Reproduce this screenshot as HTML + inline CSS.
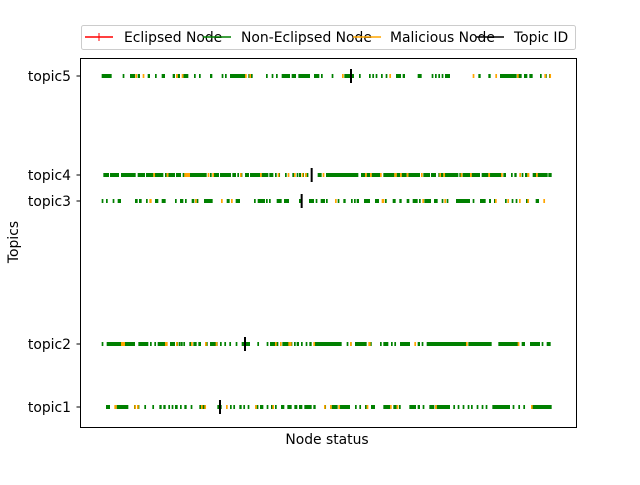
<!DOCTYPE html>
<html><head><meta charset="utf-8"><style>
body{margin:0;background:#fff;}
svg text{font-family:"DejaVu Sans","Liberation Sans",sans-serif;font-size:13.9px;fill:#000;}
</style></head><body>
<svg id="chart" width="640" height="480" viewBox="0 0 640 480" xmlns="http://www.w3.org/2000/svg">
<rect x="0" y="0" width="640" height="480" fill="#fff"/>
<g id="marks"></g>
<rect x="80.5" y="58.5" width="496" height="369" fill="none" stroke="#000" stroke-width="1"/>
<g id="yaxis"></g>
<text x="327" y="444" text-anchor="middle">Node status</text>
<text x="18" y="242" text-anchor="middle" transform="rotate(-90 18 242)">Topics</text>
<g>
<rect x="81.5" y="25.5" width="494" height="24" rx="2" fill="#fff" stroke="#ccc"/>
<g><line x1="85" y1="37" x2="113" y2="37" stroke="red" stroke-width="1.5"/><line x1="99" y1="33" x2="99" y2="41" stroke="red" stroke-width="1"/><text x="124" y="42">Eclipsed Node</text></g>
<g><line x1="203" y1="37" x2="231" y2="37" stroke="green" stroke-width="1.5"/><text x="241" y="42">Non-Eclipsed Node</text></g>
<g><line x1="353" y1="37" x2="381" y2="37" stroke="orange" stroke-width="1.5"/><text x="390" y="42">Malicious Node</text></g>
<g><line x1="476" y1="37" x2="504" y2="37" stroke="#000" stroke-width="1.5"/><text x="514" y="42">Topic ID</text></g>
</g>
</svg>
<script>
const topics = ["topic1","topic2","topic3","topic4","topic5"];
const topicValues = [20, 83, 226, 252, 351];
const topicIds = [375, 450, 620, 650, 768];
const green1 = [[33,45],[65,100],[117,120],[128,133],[148,153],[172,177],[193,200],[205,212],[220,225],[230,235],[240,248],[255,260],[268,275],[287,292],[313,330],[367,380],[405,410],[415,420],[433,440],[445,450],[458,462],[485,490],[495,505],[515,520],[528,535],[540,545],[558,568],[577,590],[598,607],[612,622],[628,650],[655,662],[688,693],[710,728],[735,765],[780,785],[793,798],[810,815],[828,840],[865,885],[895,905],[912,915],[943,963],[968,975],[983,988],[1003,1018],[1025,1065],[1075,1080],[1088,1093],[1103,1108],[1118,1123],[1128,1133],[1145,1150],[1160,1165],[1172,1177],[1192,1245],[1253,1258],[1270,1275],[1285,1290],[1310,1370]];
const orange1 = [[58,65],[118,120],[126,130],[318,323],[328,333],[393,398],[480,485],[532,537],[687,692],[705,710],[730,735],[815,820],[885,890],[905,910],[1020,1025],[1308,1313]];
const green2 = [[20,25],[35,78],[88,120],[130,160],[165,170],[178,183],[188,212],[225,240],[245,248],[252,255],[258,262],[265,270],[283,288],[295,305],[310,318],[330,338],[345,368],[375,380],[388,393],[403,408],[422,425],[440,465],[487,490],[515,520],[525,550],[562,592],[597,602],[605,612],[618,622],[632,637],[643,650],[660,740],[755,760],[765,770],[780,815],[825,830],[855,860],[865,880],[888,893],[898,903],[915,945],[968,975],[980,985],[995,1115],[1120,1190],[1210,1270],[1280,1290],[1305,1335],[1340,1345],[1355,1367]];
const orange2 = [[78,90],[210,218],[243,245],[288,293],[330,335],[362,367],[540,545],[555,560],[580,590],[655,660],[765,770],[820,827],[958,963],[1113,1118],[1268,1273]];
const green3 = [[20,25],[33,38],[53,58],[68,78],[120,128],[132,140],[153,158],[180,190],[200,212],[240,245],[255,265],[270,275],[290,298],[305,308],[327,353],[395,404],[422,435],[477,482],[488,510],[513,518],[522,527],[545,560],[567,582],[612,618],[642,657],[662,667],[677,690],[693,698],[728,733],[745,752],[768,773],[777,782],[785,792],[807,825],[840,852],[870,875],[893,902],[913,920],[935,943],[953,968],[972,977],[988,1008],[1017,1028],[1040,1045],[1055,1060],[1083,1125],[1133,1138],[1155,1172],[1182,1188],[1197,1200],[1230,1235],[1250,1255],[1262,1267],[1293,1300],[1322,1332]];
const orange3 = [[163,170],[300,305],[378,383],[408,413],[720,725],[860,868],[982,987],[1048,1053],[1200,1205],[1237,1242],[1272,1277],[1297,1302],[1345,1350]];
const green4 = [[25,42],[45,72],[78,122],[128,150],[153,175],[180,205],[210,215],[220,240],[243,258],[263,268],[285,335],[345,350],[357,372],[375,408],[412,423],[427,432],[437,442],[450,462],[465,495],[500,520],[523,535],[540,545],[550,555],[570,575],[592,600],[605,610],[612,618],[622,627],[635,640],[668,680],[693,790],[798,810],[815,825],[830,855],[865,898],[905,915],[920,935],[940,975],[985,1005],[1008,1023],[1030,1045],[1050,1090],[1093,1098],[1103,1125],[1130,1155],[1160,1180],[1185,1218],[1225,1233],[1248,1253],[1258,1265],[1280,1285],[1290,1297],[1313,1323],[1328,1358],[1360,1370]];
const orange4 = [[175,180],[215,220],[268,285],[338,343],[352,357],[435,440],[495,500],[548,553],[578,583],[597,602],[620,625],[630,635],[683,688],[810,815],[825,830],[855,860],[898,905],[915,920],[935,940],[978,983],[1033,1038],[1045,1050],[1097,1102],[1125,1130],[1180,1185],[1218,1223],[1273,1278],[1297,1303],[1323,1328]];
const green5 = [[20,50],[83,88],[105,120],[128,135],[158,165],[180,185],[200,210],[233,240],[248,255],[265,280],[297,302],[312,317],[345,352],[380,385],[390,395],[405,450],[460,473],[513,518],[530,535],[543,548],[560,585],[590,603],[610,645],[657,673],[678,683],[710,715],[748,777],[792,797],[822,827],[832,837],[842,847],[858,863],[872,877],[903,918],[923,930],[968,980],[1010,1015],[1020,1025],[1030,1035],[1040,1045],[1050,1065],[1150,1157],[1180,1187],[1215,1265],[1270,1280],[1287,1297],[1303,1313],[1335,1340],[1350,1355],[1362,1367]];
const orange5 = [[121,126],[143,148],[243,248],[260,265],[450,455],[463,468],[741,746],[883,888],[1133,1138],[1201,1206],[1266,1271],[1348,1353],[1363,1368]];
const greenRows = [green1, green2, green3, green4, green5];
const orangeRows = [orange1, orange2, orange3, orange4, orange5];

const xDomain = [-45, 1443], xRange = [80, 576];
const yDomain = [0, 369], yRange = [427, 58];
function xs(v){ return xRange[0] + (v - xDomain[0]) / (xDomain[1] - xDomain[0]) * (xRange[1] - xRange[0]); }
function ys(v){ return yRange[0] + (v - yDomain[0]) / (yDomain[1] - yDomain[0]) * (yRange[1] - yRange[0]); }
const NS = "http://www.w3.org/2000/svg";
const marks = document.getElementById("marks");
function run(g, r, y, color, name){
  const x0 = xs(r[0]), x1 = Math.max(xs(r[1]), x0 + 1.7);
  const el = document.createElementNS(NS, "rect");
  el.setAttribute("x", x0); el.setAttribute("y", y - 2);
  el.setAttribute("width", x1 - x0); el.setAttribute("height", 4);
  el.setAttribute("fill", color);
  
  
  g.appendChild(el);
}
topics.forEach((t, i) => {
  const y = ys(topicValues[i]);
  const g = document.createElementNS(NS, "g");
  
  
  marks.appendChild(g);
  greenRows[i].forEach(r => run(g, r, y, "green", "non-eclipsed-node"));
  orangeRows[i].forEach(r => run(g, r, y, "orange", "malicious-node"));
  const id = document.createElementNS(NS, "line");
  id.setAttribute("x1", xs(topicIds[i])); id.setAttribute("x2", xs(topicIds[i]));
  id.setAttribute("y1", y - 7); id.setAttribute("y2", y + 7);
  id.setAttribute("stroke", "#000"); id.setAttribute("stroke-width", 2);
  
  
  g.appendChild(id);
  const ax = document.getElementById("yaxis");
  const tk = document.createElementNS(NS, "line");
  tk.setAttribute("x1", 76.5); tk.setAttribute("x2", 80.5);
  tk.setAttribute("y1", y); tk.setAttribute("y2", y);
  tk.setAttribute("stroke", "#000");
  
  
  ax.appendChild(tk);
  const tx = document.createElementNS(NS, "text");
  tx.setAttribute("x", 71); tx.setAttribute("y", y + 5);
  tx.setAttribute("text-anchor", "end");
  tx.textContent = t;
  
  
  ax.appendChild(tx);
});
</script>
</body></html>
